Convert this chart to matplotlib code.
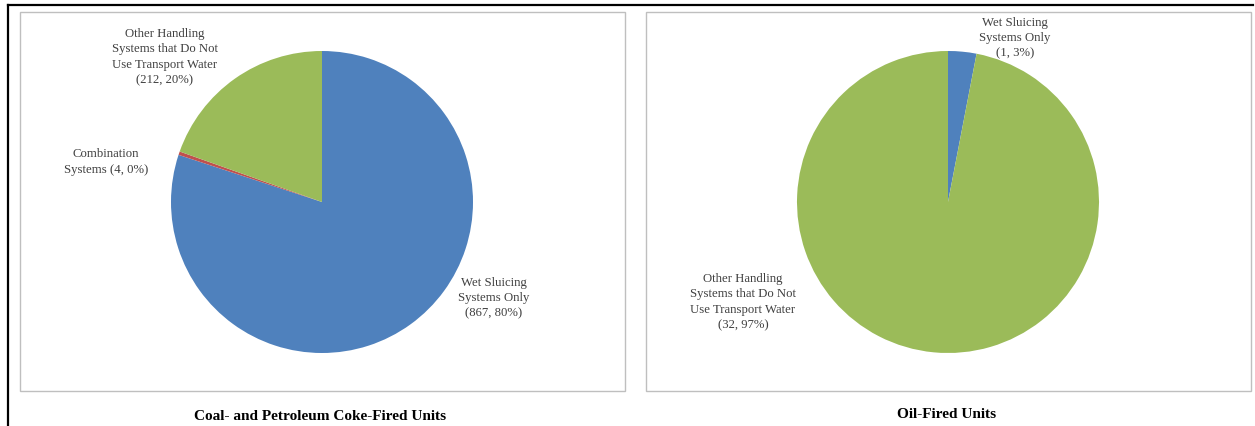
import matplotlib.pyplot as plt
from matplotlib.patches import Rectangle
from matplotlib.lines import Line2D

# unit counts by ash handling type
coal_labels = ["Wet Sluicing\nSystems Only\n", "Combination\nSystems ", "Other Handling\nSystems that Do Not\nUse Transport Water\n"]
coal_counts = [867, 4, 212]
coal_pcts = [80, 0, 20]

oil_labels = ["Wet Sluicing\nSystems Only\n", "Other Handling\nSystems that Do Not\nUse Transport Water\n"]
oil_counts = [1, 32]
oil_pcts = [3, 97]

coal_colors = ["#4F81BD", "#C0504D", "#9BBB59"]
oil_colors = ["#4F81BD", "#9BBB59"]

W, H = 1255, 426
fig = plt.figure(figsize=(W / 100, H / 100), dpi=100)
plt.rcParams['font.family'] = ['Liberation Serif', 'DejaVu Serif']


def px_rect(x, y, w, h):
    # pixel box (top-left origin) -> figure fraction
    return [x / W, 1 - (y + h) / H, w / W, h / H]


def ftext(x, y, s, **kw):
    fig.text(x / W, 1 - y / H, s, **kw)


# page frame (top and left edges) and the two chart boxes
fig.add_artist(Line2D([8 / W, 1253 / W], [1 - 5 / H, 1 - 5 / H], color="black", lw=1.6))
fig.add_artist(Line2D([8 / W, 8 / W], [1 - 5 / H, 0], color="black", lw=1.6))
for bx in [(20, 12, 605, 379), (646, 12, 605, 379)]:
    r = Rectangle((bx[0] / W, 1 - (bx[1] + bx[3]) / H), bx[2] / W, bx[3] / H,
                  transform=fig.transFigure, fill=False, edgecolor="#BFBFBF", lw=1.0)
    fig.add_artist(r)


def draw_pie(cx, cy, r, values, colors):
    ax = fig.add_axes(px_rect(cx - r, cy - r, 2 * r, 2 * r))
    ax.pie(values, colors=colors, startangle=90, counterclock=False, radius=1,
           wedgeprops=dict(linewidth=0))
    ax.set_xlim(-1, 1)
    ax.set_ylim(-1, 1)
    ax.set_aspect("auto")
    ax.axis("off")
    return ax


draw_pie(322, 202, 151, coal_counts, coal_colors)
draw_pie(948, 202, 151, oil_counts, oil_colors)

lab = dict(ha="center", va="center", fontsize=9.2, color="#404040", linespacing=1.36)


def label(x, y, name, n, p):
    ftext(x, y, f"{name}({n}, {p}%)", **lab)


# coal / petcoke labels
label(494, 298, coal_labels[0], coal_counts[0], coal_pcts[0])
label(106, 162, coal_labels[1], coal_counts[1], coal_pcts[1])
label(165, 57, coal_labels[2], coal_counts[2], coal_pcts[2])

# oil labels
label(1015, 38, oil_labels[0], oil_counts[0], oil_pcts[0])
label(743, 302, oil_labels[1], oil_counts[1], oil_pcts[1])

# panel titles
ttl = dict(ha="center", va="center", fontsize=11, fontweight="bold", color="black")
ftext(320, 416, "Coal- and Petroleum Coke-Fired Units", **ttl)
ftext(947, 415, "Oil-Fired Units", **ttl)

fig.savefig("out.png", dpi=100, facecolor="white")
